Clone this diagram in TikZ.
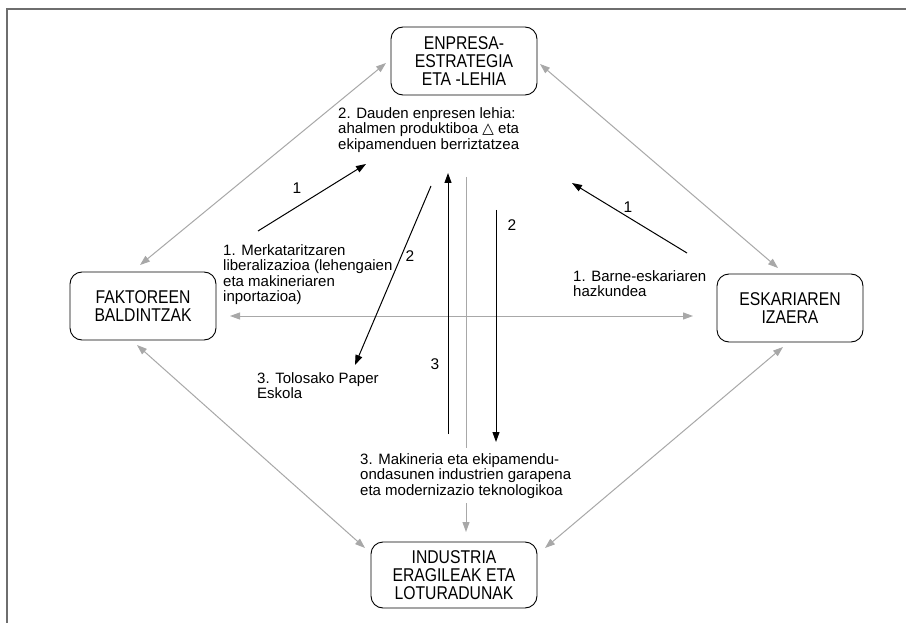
\documentclass[tikz,border=0pt]{standalone}
\usepackage{fontspec}
\setmainfont{Liberation Sans}
\newfontfamily\boxfont[FakeStretch=0.85]{Liberation Sans}
\newfontfamily\symfont{DejaVu Sans}
\usetikzlibrary{arrows.meta,calc}
\definecolor{framec}{HTML}{6E6E6E}
\definecolor{garc}{HTML}{A8A8A8}
\begin{document}
\begin{tikzpicture}[x=1pt,y=-1pt,
  box/.style={draw, line width=0.9pt, rounded corners=12pt, minimum width=146pt, minimum height=68pt, align=center, inner sep=0pt, font=\boxfont\fontsize{18.5}{18.3}\selectfont},
  lbl/.style={align=left, inner sep=0pt, anchor=north west, font=\fontsize{15}{15.5}\selectfont},
  num/.style={inner sep=0pt, font=\fontsize{15.5}{15.5}\selectfont},
  garrow/.style={draw=garc, line width=1pt, {Triangle[length=10pt,width=7pt]}-{Triangle[length=10pt,width=7pt]}},
  gline/.style={draw=garc, line width=1pt},
  barrow/.style={draw=black, line width=1pt, -{Triangle[length=10pt,width=7pt]}}]
\useasboundingbox (0,0) rectangle (906,623);
\fill[white] (0,0) rectangle (906,623);
\draw[framec, line width=2pt] (906,9) -- (7,9) -- (7,623);

% boxes
\node[box] (enp) at (464,61) {ENPRESA-\\ESTRATEGIA\\ETA -LEHIA};
\node[box] (fak) at (143,306) {FAKTOREEN\\BALDINTZAK};
\node[box] (esk) at (790,308) {ESKARIAREN\\IZAERA};
\node[box, minimum width=166pt, minimum height=66pt] (ind) at (454,575) {INDUSTRIA\\ERAGILEAK ETA\\LOTURADUNAK};

% labels
\node[lbl] (dau) at (338,107) {2. Dauden enpresen lehia:\\ahalmen produktiboa {\symfont △} eta\\ekipamenduen berriztatzea};
\node[lbl] (mer) at (223,244) {1. Merkataritzaren\\liberalizazioa (lehengaien\\eta makineriaren\\inportazioa)};
\node[lbl] (bar) at (573,270) {1. Barne-eskariaren\\hazkundea};
\node[lbl] (tol) at (257,372) {3. Tolosako Paper\\Eskola};
\node[lbl] (mak) at (360,453) {3. Makineria eta ekipamendu-\\ondasunen industrien garapena\\eta modernizazio teknologikoa};

\node[num] (n1a) at (297,188) {1};
\node[num] (n1b) at (628,207) {1};
\node[num] (n2a) at (410,256) {2};
\node[num] (n2b) at (512,225) {2};
\node[num] (n3) at (435,364) {3};

% gray connectors
\coordinate (tl1) at (140,265); \coordinate (tl2) at (386,63);
\coordinate (tr1) at (540,64);  \coordinate (tr2) at (778,268);
\coordinate (h1) at (230,316);  \coordinate (h2) at (693,316);
\coordinate (bl1) at (137,345); \coordinate (bl2) at (365,548);
\coordinate (br1) at (783,347); \coordinate (br2) at (545,548);
\draw[garrow] (tl1) -- (tl2);
\draw[garrow] (tr1) -- (tr2);
\draw[garrow] (h1) -- (h2);
\draw[garrow] (bl1) -- (bl2);
\draw[garrow] (br1) -- (br2);

\coordinate (gv1) at (466,177);
\coordinate (gv2) at (466,448);
\coordinate (gv3) at (466,503);
\coordinate (gv4) at (466,532);
\draw[gline] (gv1) -- (gv2);
\draw[gline, -{Triangle[length=10pt,width=7pt]}] (gv3) -- (gv4);

% black connectors
\coordinate (a1s) at (258,231); \coordinate (a1e) at (366,164);
\coordinate (a2s) at (687,253); \coordinate (a2e) at (572,183);
\coordinate (a3s) at (431,186); \coordinate (a3e) at (355,365);
\coordinate (a4s) at (448,434); \coordinate (a4e) at (448,173);
\coordinate (a5s) at (496,210); \coordinate (a5e) at (496,442);
\draw[barrow] (a1s) -- (a1e);
\draw[barrow] (a2s) -- (a2e);
\draw[barrow] (a3s) -- (a3e);
\draw[barrow] (a4s) -- (a4e);
\draw[barrow] (a5s) -- (a5e);
\end{tikzpicture}
\end{document}
